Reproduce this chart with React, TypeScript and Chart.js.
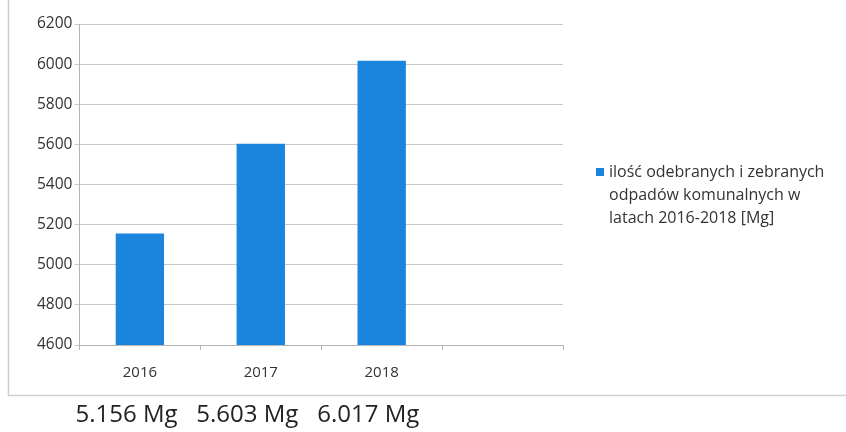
import React, { useEffect, useRef } from "react";
import { Chart, registerables } from "chart.js";

Chart.register(...registerables);

const categories = ["2016", "2017", "2018", ""];
const values = [5156, 5603, 6017, null];
const seriesLabel = ["ilość odebranych i zebranych", "odpadów komunalnych w", "latach 2016-2018 [Mg]"];
const bottomLabels = ["5.156 Mg", "5.603 Mg", "6.017 Mg"];

const BAR_COLOR = "#1b84dc";
const FONT = "'Open Sans', 'DejaVu Sans', sans-serif";

const decorPlugin = {
  id: "decor",
  beforeDraw(chart: any) {
    const ctx = chart.ctx;
    ctx.save();
    ctx.fillStyle = "#ffffff";
    ctx.fillRect(0, 0, chart.width, chart.height);
    ctx.strokeStyle = "#cfcfcf";
    ctx.lineWidth = 1.5;
    ctx.beginPath();
    ctx.moveTo(8.5, 0);
    ctx.lineTo(8.5, 395.5);
    ctx.lineTo(chart.width, 395.5);
    ctx.stroke();
    ctx.restore();
  },
  afterDraw(chart: any) {
    const ctx = chart.ctx;
    const x = chart.scales.x;
    const ds = chart.data.datasets[0];
    ctx.save();
    const lx = 596;
    const ly = 172;
    const lh = 23;
    ctx.fillStyle = ds.backgroundColor;
    ctx.fillRect(lx, ly - 4, 8, 8);
    ctx.fillStyle = "#333";
    ctx.font = `16px ${FONT}`;
    ctx.textBaseline = "middle";
    ctx.textAlign = "left";
    (ds.label as string[]).forEach((t: string, i: number) => {
      ctx.fillText(t, lx + 13, ly + i * lh);
    });
    ctx.font = `24px ${FONT}`;
    ctx.fillStyle = "#222";
    const half = (x.getPixelForValue(1) - x.getPixelForValue(0)) / 2;
    bottomLabels.forEach((t, i) => {
      ctx.fillText(t, x.getPixelForValue(i) - half - 4, 415);
    });
    ctx.restore();
  },
};

export default function App() {
  const ref = useRef<HTMLCanvasElement>(null);
  useEffect(() => {
    if (!ref.current) return;
    const chart = new Chart(ref.current, {
      type: "bar",
      data: {
        labels: categories,
        datasets: [
          {
            label: seriesLabel as any,
            data: values as any,
            backgroundColor: BAR_COLOR,
            barPercentage: 0.8,
            categoryPercentage: 0.5,
          },
        ],
      },
      options: {
        animation: false,
        responsive: false,
        devicePixelRatio: 1,
        layout: { padding: { left: 35, top: 24, right: 283, bottom: 36 } },
        plugins: { legend: { display: false }, tooltip: { enabled: false } },
        scales: {
          x: {
            offset: true,
            grid: { offset: true, drawOnChartArea: false, drawTicks: true, tickLength: 5, color: "#b5b5b5" },
            border: { display: true, color: "#b5b5b5" },
            ticks: { font: { family: FONT, size: 15 }, color: "#333", padding: 14 },
          },
          y: {
            min: 4600,
            max: 6200,
            ticks: {
              stepSize: 200,
              font: { family: FONT, size: 15.5 },
              color: "#333",
              padding: 2,
              callback: (v: any) => String(v),
            },
            grid: { color: "#c8c8c8", tickLength: 5, drawTicks: true },
            border: { display: true, color: "#b5b5b5" },
          },
        },
      },
      plugins: [decorPlugin],
    });
    return () => chart.destroy();
  }, []);
  return (
    <div style={{ position: "fixed", left: 0, top: 0, width: 846, height: 432, background: "#fff" }}>
      <canvas ref={ref} width={846} height={432} style={{ width: 846, height: 432 }} />
    </div>
  );
}
